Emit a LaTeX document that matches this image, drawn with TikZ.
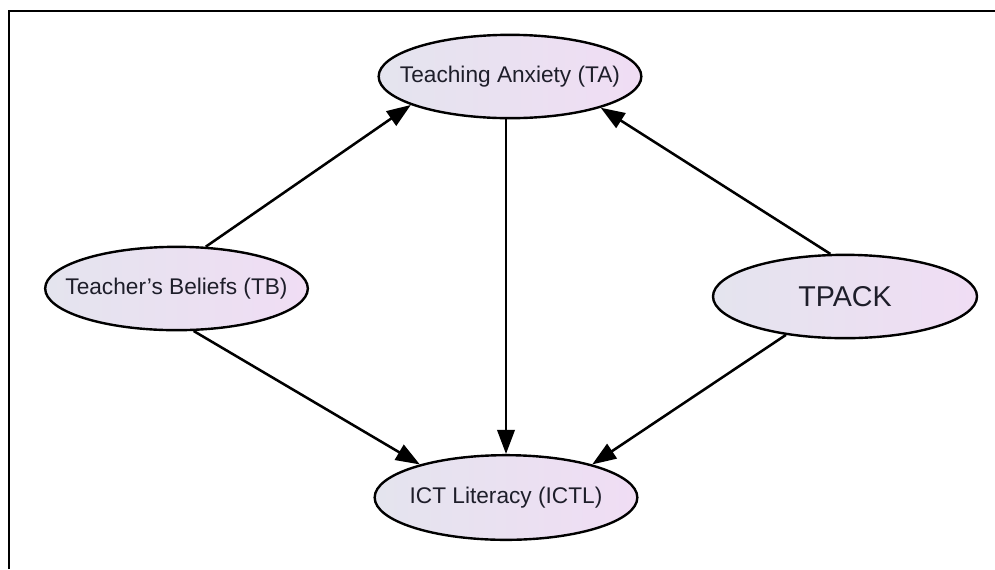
\documentclass[tikz,border=0pt]{standalone}
\usepackage{fontspec}
\setmainfont{Liberation Sans}
\usetikzlibrary{shapes.geometric,arrows.meta}
\definecolor{txtc}{RGB}{30,30,42}
\definecolor{fillL}{RGB}{228,228,238}
\definecolor{fillR}{RGB}{240,221,244}
\newcommand\zw[1]{\makebox[0pt]{#1}}
\begin{document}
\begin{tikzpicture}[x=0.75pt,y=-0.75pt,
  ell/.style={ellipse, draw=black, line width=1.8pt, inner sep=0pt,
    minimum width=197pt, minimum height=62.5pt,
    left color=fillL, right color=fillR, text=txtc,
    font=\fontsize{17}{20}\selectfont},
  arr/.style={line width=1.9pt, -{Triangle[length=18pt,width=13pt]}}]
\useasboundingbox (0,0) rectangle (995,569);
\fill[white] (0,0) rectangle (995,569);
\draw[line width=1.5pt] (9,569) -- (9,11) -- (995,11);
\node[ell] (TA) at (510,76.5) {\zw{Teaching Anxiety (TA)}};
\node[ell] (TB) at (176.5,288.5) {\zw{Teacher's Beliefs (TB)}};
\node[ell, minimum width=198pt, font=\fontsize{21.5}{25}\selectfont] (TPACK) at (845,296.5) {\zw{TPACK}};
\node[ell, minimum height=63.5pt] (ICTL) at (506,497.5) {\zw{ICT Literacy (ICTL)}};
\draw[arr] (TB.55) -- (TA.196);
\draw[arr] (TB.292) -- (ICTL.159);
\draw[arr] (TA.south -| ICTL.north) -- (ICTL.north);
\draw[arr] (TPACK.109) -- (TA.341);
\draw[arr] (TPACK.213) -- (ICTL.21);
\end{tikzpicture}
\end{document}
